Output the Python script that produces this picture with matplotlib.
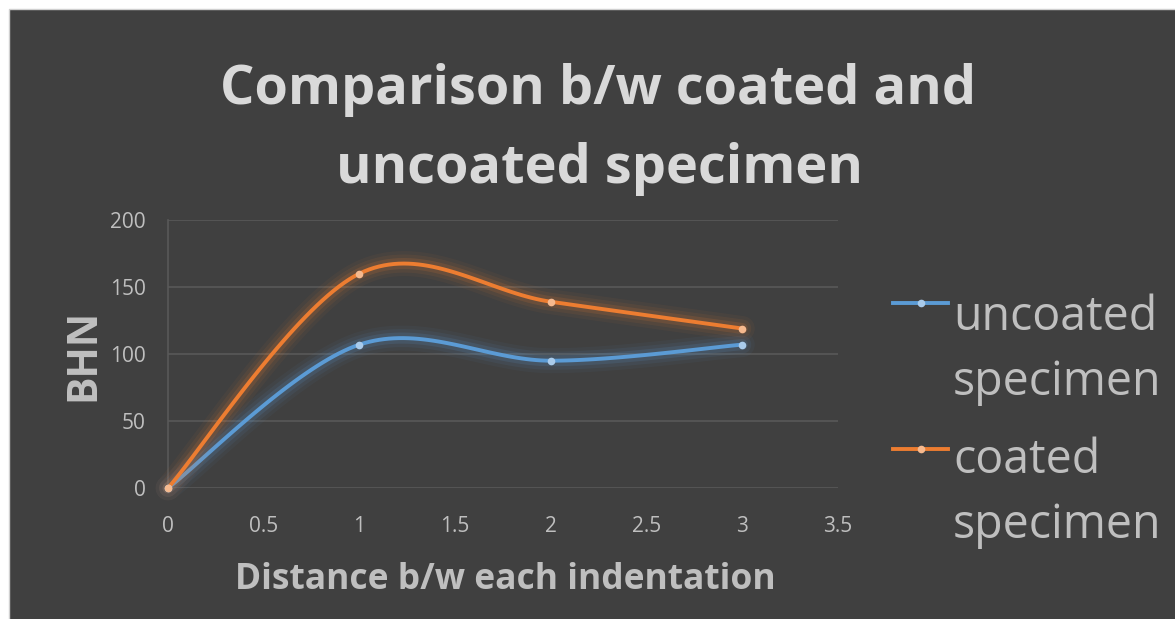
import numpy as np
import matplotlib.pyplot as plt
import matplotlib.patheffects as pe
from matplotlib.lines import Line2D
from matplotlib.patches import Rectangle

# data
distance = [0, 1, 2, 3]
uncoated = [0, 107, 95, 107]
coated = [0, 160, 139, 119]
series_labels = [["uncoated", "specimen"], ["coated", "specimen"]]
title_lines = ["Comparison b/w coated and", "uncoated specimen"]
xticks = [0, 0.5, 1, 1.5, 2, 2.5, 3, 3.5]
yticks = [0, 50, 100, 150, 200]

W, H = 1175, 619
BG = "#404040"
GRID = "#595959"
TICK = "#BFBFBF"
COLORS = ["#5B9BD5", "#ED7D31"]
MARKER_COLORS = ["#A9CBEB", "#F6B98E"]
FONT = "Open Sans"


def smooth(xs, ys, n=40):
    # excel-like smoothed line: catmull-rom as cubic bezier
    p = np.column_stack([xs, ys]).astype(float)
    parts = []
    for i in range(len(p) - 1):
        p0 = p[max(i - 1, 0)]
        p1, p2 = p[i], p[i + 1]
        p3 = p[min(i + 2, len(p) - 1)]
        c1 = p1 + (p2 - p0) / 6
        c2 = p2 - (p3 - p1) / 6
        t = np.linspace(0, 1, n)[:, None]
        seg = (1 - t) ** 3 * p1 + 3 * (1 - t) ** 2 * t * c1 + 3 * (1 - t) * t ** 2 * c2 + t ** 3 * p2
        parts.append(seg if i == 0 else seg[1:])
    s = np.vstack(parts)
    return s[:, 0], s[:, 1]


def glow(color):
    return [pe.Stroke(linewidth=18, foreground=color, alpha=0.05),
            pe.Stroke(linewidth=13, foreground=color, alpha=0.08),
            pe.Stroke(linewidth=8, foreground=color, alpha=0.14),
            pe.Normal()]


fig = plt.figure(figsize=(W / 100, H / 100), dpi=100, facecolor="white")
fig.patches.append(Rectangle((9 / W, -0.05), 1, 1.05 - 9 / H, transform=fig.transFigure,
                             facecolor=BG, edgecolor="#D0D0D0", linewidth=1, zorder=-10))

ax = fig.add_axes([168 / W, 1 - 488 / H, (838 - 168) / W, (488 - 220) / H])
ax.set_facecolor("none")
ax.set_xlim(0, 3.5)
ax.set_ylim(0, 200)
ax.set_xticks(xticks)
ax.set_xticklabels([f"{v:g}" for v in xticks])
ax.set_yticks(yticks)
ax.grid(axis="y", color=GRID, linewidth=1.2)
ax.set_axisbelow(True)
for s in ["top", "right", "bottom"]:
    ax.spines[s].set_visible(False)
ax.spines["left"].set_color(GRID)
ax.spines["left"].set_linewidth(1.2)
ax.tick_params(length=0, colors=TICK, labelsize=15)
ax.tick_params(axis="x", pad=20)
ax.tick_params(axis="y", pad=16)
for lab in ax.get_xticklabels() + ax.get_yticklabels():
    lab.set_fontfamily(FONT)

for ys, c, mc in zip([uncoated, coated], COLORS, MARKER_COLORS):
    sx, sy = smooth(distance, ys)
    ax.plot(sx, sy, color=c, linewidth=2.8, solid_capstyle="round",
            path_effects=glow(c), clip_on=False, zorder=3)
    ax.plot(distance, ys, linestyle="none", marker="o", markersize=5.5,
            color=mc, markeredgewidth=0, clip_on=False, zorder=4)

# title
fig.text(598 / W, 1 - 104 / H, title_lines[0], ha="center", va="baseline",
         fontsize=39, fontweight="bold", color="#D9D9D9", family=FONT)
fig.text(600 / W, 1 - 183 / H, title_lines[1], ha="center", va="baseline",
         fontsize=39, fontweight="bold", color="#D9D9D9", family=FONT)

# axis titles
fig.text(505 / W, 1 - 589 / H, "Distance b/w each indentation", ha="center", va="baseline",
         fontsize=25.5, fontweight="bold", color=TICK, family=FONT)
fig.text(84 / W, 1 - 355 / H, "BHN", ha="center", va="center", rotation=90,
         fontsize=29.5, fontweight="bold", color=TICK, family=FONT)

# legend
for (l1, l2), c, mc, hy, by in zip(series_labels, COLORS, MARKER_COLORS, [303, 449], [330, 473]):
    fig.add_artist(Line2D([893 / W, 948 / W], [1 - hy / H] * 2, transform=fig.transFigure,
                          color=c, linewidth=2.8))
    fig.add_artist(Line2D([920.5 / W], [1 - hy / H], transform=fig.transFigure,
                          marker="o", markersize=5.5, color=mc, markeredgewidth=0))
    fig.text(953 / W, 1 - by / H, l1, ha="left", va="baseline", fontsize=33.5,
             color=TICK, family=FONT)
    fig.text(953 / W, 1 - (by + 65) / H, l2, ha="left", va="baseline", fontsize=33.5,
             color=TICK, family=FONT)

fig.savefig("out.png", dpi=100, facecolor=fig.get_facecolor())
